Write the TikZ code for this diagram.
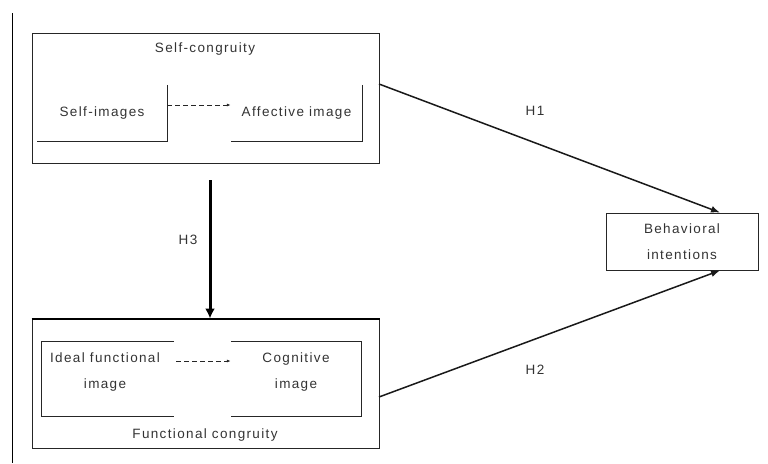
\documentclass[tikz,border=0pt]{standalone}
\usepackage{fontspec}
\setmainfont[LetterSpace=10]{Liberation Sans}
\usetikzlibrary{arrows.meta}
\begin{document}
\begin{tikzpicture}[x=1pt,y=-1pt,
  txt/.style={font=\fontsize{13.5}{26}\selectfont, text=black!80, align=center, inner sep=0pt},
  outerbox/.style={draw=black!85, line width=1pt, inner sep=0pt},
  innerbox/.style={inner sep=0pt},
  edge/.style={draw=black!85, line width=0.9pt},
  dasharrow/.style={draw=black!85, dash pattern=on 5pt off 3pt, line width=0.9pt, -{Latex[length=4pt,width=3pt]}},
  hyparrow/.style={draw=black!90, line width=1.5pt, -{Latex[length=9pt,width=7pt]}},
  thickarrow/.style={line width=3pt, -{Latex[length=10pt,width=10pt]}},
  lbl/.style={font=\fontsize{13.5}{16}\selectfont, text=black!80, inner sep=0pt}]
\useasboundingbox (0,0) rectangle (768,463);
% left margin line
\coordinate (lt) at (12,13);
\coordinate (lb) at (12,463);
\draw[line width=1pt] (lt) -- (lb);

% Self-congruity block
\node[outerbox, minimum width=347pt, minimum height=130pt] (scbox) at (205.5,98) {};
\node[txt] (sctitle) at (205,49) {Self-congruity};
\node[innerbox, txt, minimum width=130pt, minimum height=56pt] (si) at (102,113) {Self-images};
\node[innerbox, txt, minimum width=131pt, minimum height=56pt] (af) at (296.5,113) {Affective image};
\draw[edge] (si.north east) -- (si.south east) -- (si.south west);
\draw[edge] (af.north east) -- (af.south east) -- (af.south west);
\draw[dasharrow] ([yshift=8pt]si.east) -- ([yshift=8pt]af.west);

% Functional congruity block
\node[outerbox, minimum width=347pt, minimum height=129pt] (fcbox) at (205.5,383.5) {};
\draw[line width=2pt] (fcbox.north west) -- (fcbox.north east);
\node[txt] (fctitle) at (205,435) {Functional congruity};
\node[innerbox, txt, minimum width=132pt, minimum height=74pt] (id) at (108,379) {};
\node[txt] (idtxt) at (105,372.5) {Ideal functional\\image};
\node[innerbox, txt, minimum width=130pt, minimum height=74pt] (cg) at (296,379) {};
\node[txt] (cgtxt) at (296,372.5) {Cognitive\\image};
\draw[edge] (id.north east) -- (id.north west) -- (id.south west) -- (id.south east);
\draw[edge] (cg.north west) -- (cg.north east) -- (cg.south east) -- (cg.south west);
\draw[dasharrow] ([yshift=18pt,xshift=2pt]id.east) -- ([yshift=18pt]cg.west);

% H3
\coordinate (h3s) at (210,180);
\draw[thickarrow] (h3s) -- (h3s |- fcbox.north);
\node[lbl] (h3) at (188,240) {H3};

% Behavioral intentions
\node[draw=black!85, line width=0.9pt, txt, minimum width=152pt, minimum height=57pt] (bi) at (682,241.5) {Behavioral\\intentions};

% H1, H2
\coordinate (h1s) at (379,84);
\coordinate (h2s) at (379,397);
\draw[hyparrow] (h1s) -- ([xshift=38pt]bi.north);
\draw[hyparrow] (h2s) -- ([xshift=38pt]bi.south);
\node[lbl] (h1) at (535,111) {H1};
\node[lbl] (h2) at (535,370) {H2};
\end{tikzpicture}
\end{document}
